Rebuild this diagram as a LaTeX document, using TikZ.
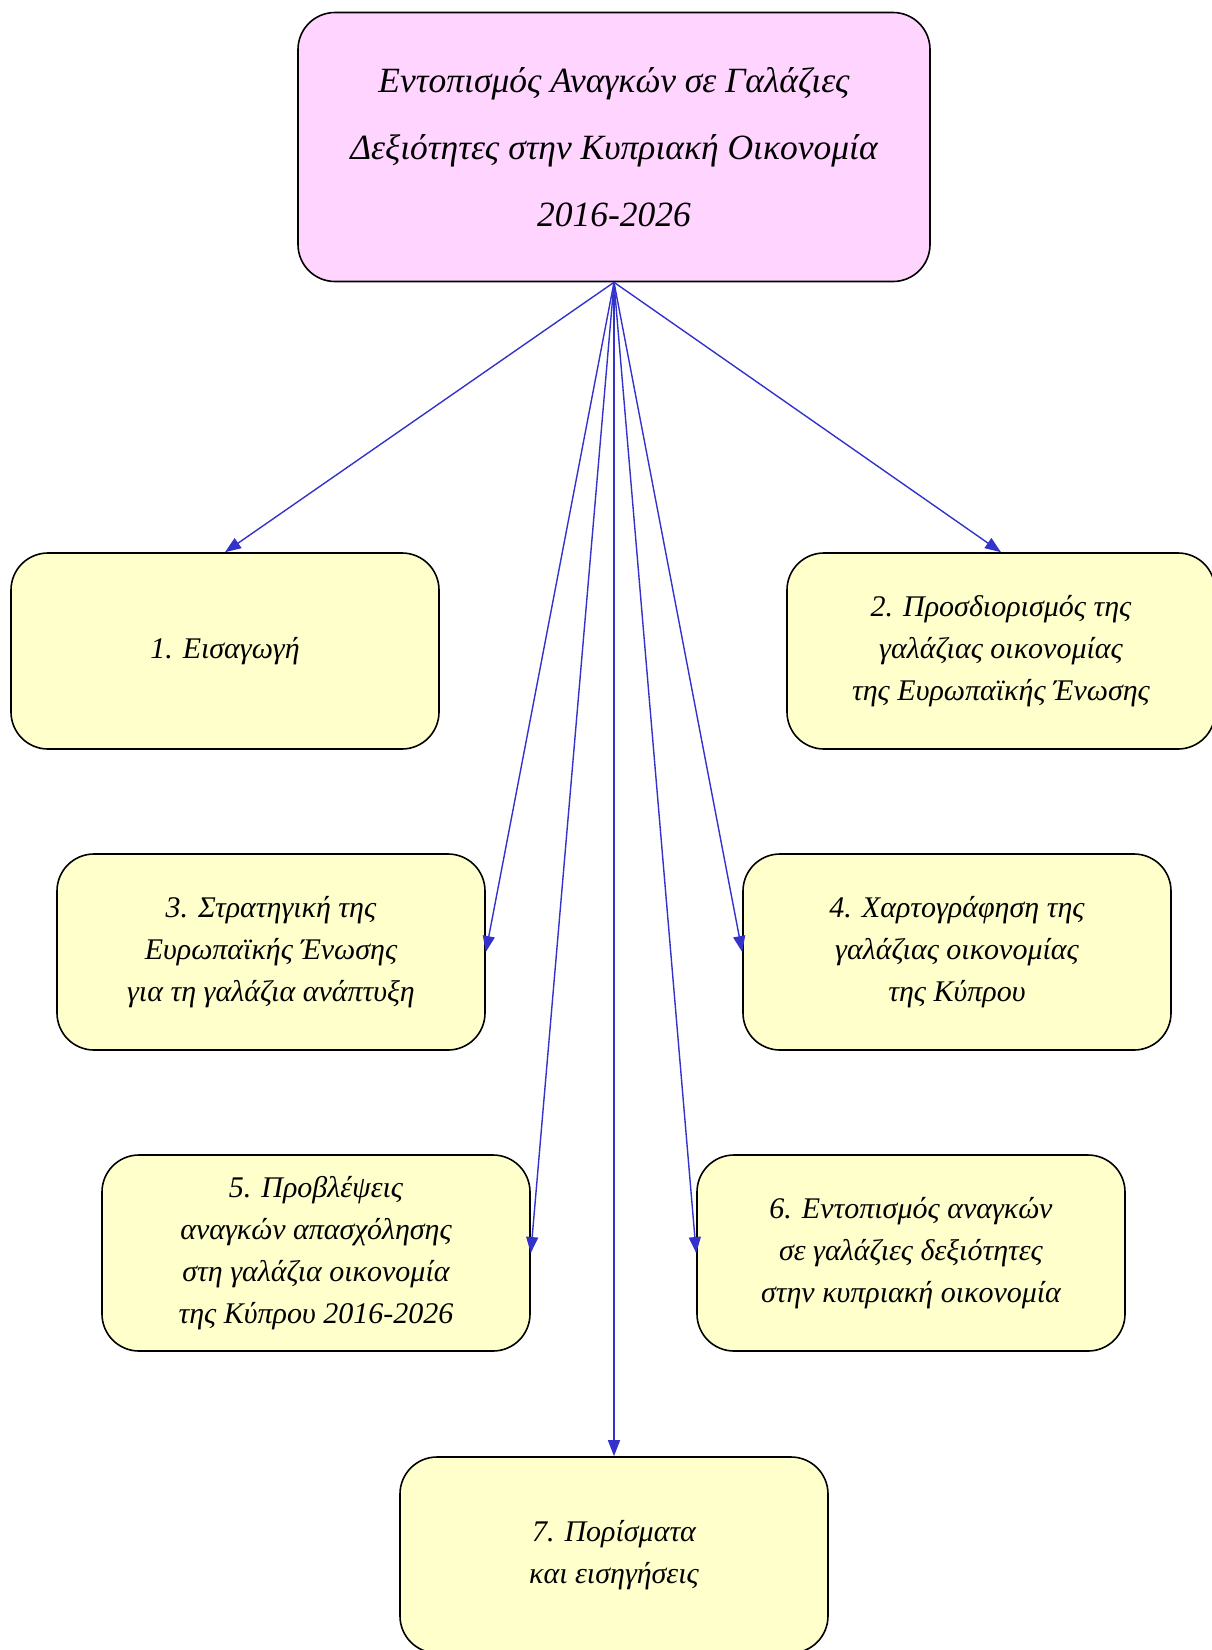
\documentclass[tikz,border=0pt]{standalone}
\usepackage{fontspec}
\setmainfont{Liberation Serif}
\usepackage{xcolor}
\usepackage{tikz}
\usetikzlibrary{arrows.meta}

\definecolor{rosa}{RGB}{255,213,255}
\definecolor{amarillo}{RGB}{255,255,204}
\definecolor{azul}{RGB}{51,51,204}

\tikzset{
  caja/.style={draw=black, line width=1.6pt, rounded corners=37pt, fill=amarillo,
    minimum width=428pt, minimum height=196pt, align=center,
    font=\itshape\fontsize{30}{42}\selectfont},
  titulo/.style={caja, fill=rosa, minimum width=632pt, minimum height=269pt,
    font=\itshape\fontsize{35.5}{67}\selectfont},
  flecha/.style={draw=azul, line width=1.4pt, -{Triangle[length=16pt,width=12pt]}}
}

\begin{document}
\begin{tikzpicture}[x=1pt, y=-1pt]
        % Fija el marco
        \useasboundingbox (0,0) rectangle (1211,1650);

        % Coloca la caja del titulo
        \node[titulo] (titulo) at (614,147) {Εντοπισμός Αναγκών σε Γαλάζιες\\Δεξιότητες στην Κυπριακή Οικονομία\\2016-2026};

        % Coloca los capitulos
        \node[caja] (cap1) at (225,651) {1. Εισαγωγή};
        \node[caja] (cap2) at (1001,651) {2. Προσδιορισμός της\\γαλάζιας οικονομίας\\της Ευρωπαϊκής Ένωσης};
        \node[caja] (cap3) at (271,952) {3. Στρατηγική της\\Ευρωπαϊκής Ένωσης\\για τη γαλάζια ανάπτυξη};
        \node[caja] (cap4) at (957,952) {4. Χαρτογράφηση της\\γαλάζιας οικονομίας\\της Κύπρου};
        \node[caja] (cap5) at (316,1253) {5. Προβλέψεις\\αναγκών απασχόλησης\\στη γαλάζια οικονομία\\της Κύπρου 2016-2026};
        \node[caja] (cap6) at (911,1253) {6. Εντοπισμός αναγκών\\σε γαλάζιες δεξιότητες\\στην κυπριακή οικονομία};
        \node[caja] (cap7) at (614,1555) {7. Πορίσματα\\και εισηγήσεις};

        % Dibuja las flechas
        \draw[flecha] (titulo.south) -- (cap1.north);
        \draw[flecha] (titulo.south) -- (cap2.north);
        \draw[flecha] (titulo.south) -- (cap3.east);
        \draw[flecha] (titulo.south) -- (cap4.west);
        \draw[flecha] (titulo.south) -- (cap5.east);
        \draw[flecha] (titulo.south) -- (cap6.west);
        \draw[flecha] (titulo.south) -- (cap7.north);
    \end{tikzpicture}
\end{document}
